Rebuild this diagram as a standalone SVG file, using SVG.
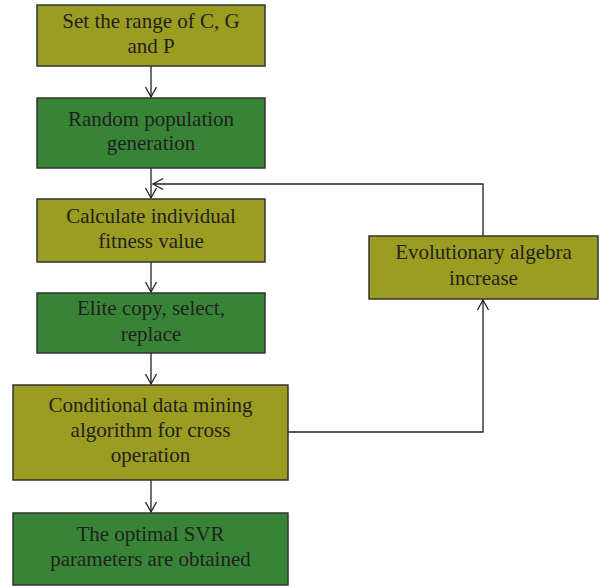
<svg xmlns="http://www.w3.org/2000/svg" width="602" height="586" viewBox="0 0 602 586">
<style>
.o{fill:#9a9d20;stroke:#333;stroke-width:1.5}
.g{fill:#378437;stroke:#333;stroke-width:1.5}
text{font-family:"Liberation Serif","Times New Roman",serif;font-size:21px;fill:#231f20;text-anchor:middle}
.c{fill:none;stroke:#231f20;stroke-width:1.3}
</style>
<defs>
<marker id="a" markerWidth="14" markerHeight="14" refX="11" refY="7" orient="auto" markerUnits="userSpaceOnUse">
<path d="M1,1.5 L11,7 L1,12.5" fill="none" stroke="#231f20" stroke-width="1.3"/>
</marker>
</defs>
<rect width="602" height="586" fill="#fff"/>
<g id="connectors">
<line class="c" x1="151" y1="66" x2="151" y2="97" marker-end="url(#a)"/>
<line class="c" x1="151" y1="168" x2="151" y2="198" marker-end="url(#a)"/>
<line class="c" x1="151" y1="262" x2="151" y2="292" marker-end="url(#a)"/>
<line class="c" x1="151" y1="353" x2="151" y2="384" marker-end="url(#a)"/>
<line class="c" x1="151" y1="480" x2="151" y2="512" marker-end="url(#a)"/>
<polyline class="c" points="288,432 483,432 483,300" marker-end="url(#a)"/>
<polyline class="c" points="483,236 483,184 153,184" marker-end="url(#a)"/>
</g>
<g id="n1"><rect class="o" x="37" y="5" width="228" height="61"/><text x="151" y="28">Set the range of C, G</text><text x="151" y="53">and P</text></g>
<g id="n2"><rect class="g" x="37" y="98" width="228" height="70"/><text x="151" y="126">Random population</text><text x="151" y="150">generation</text></g>
<g id="n3"><rect class="o" x="37" y="199" width="228" height="63"/><text x="151" y="223">Calculate individual</text><text x="151" y="248">fitness value</text></g>
<g id="n4"><rect class="g" x="37" y="293" width="228" height="60"/><text x="151" y="315">Elite copy, select,</text><text x="151" y="341">replace</text></g>
<g id="n5"><rect class="o" x="13" y="385" width="275" height="95"/><text x="150.5" y="412">Conditional data mining</text><text x="150.5" y="437">algorithm for cross</text><text x="150.5" y="462">operation</text></g>
<g id="n6"><rect class="g" x="13" y="513" width="275" height="72"/><text x="150.5" y="541">The optimal SVR</text><text x="150.5" y="566">parameters are obtained</text></g>
<g id="n7"><rect class="o" x="369" y="236" width="229" height="63"/><text x="483.5" y="259">Evolutionary algebra</text><text x="483.5" y="285">increase</text></g>
</svg>
